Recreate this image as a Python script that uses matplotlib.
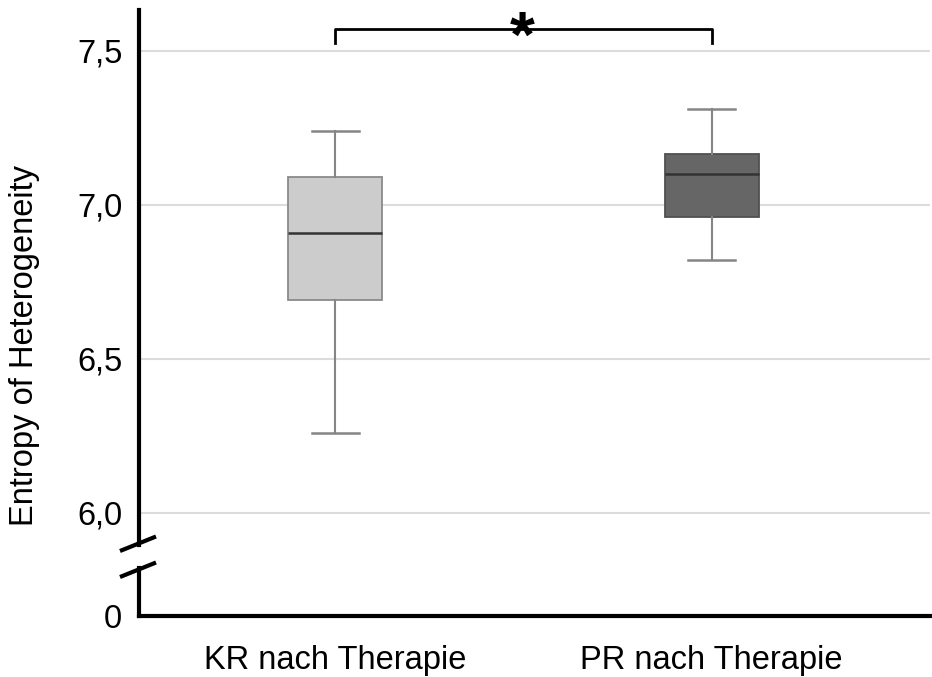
import matplotlib
matplotlib.use("Agg")
import matplotlib.pyplot as plt
from matplotlib.lines import Line2D

# values
groups = ["KR nach Therapie", "PR nach Therapie"]
whisker_low = [6.26, 6.82]
q1 = [6.69, 6.96]
median = [6.91, 7.10]
q3 = [7.09, 7.165]
whisker_high = [7.24, 7.31]
box_colors = ["#cccccc", "#666666"]
box_edges = ["#8a8a8a", "#505050"]
y_ticks = [6.0, 6.5, 7.0, 7.5]
y_tick_labels = ["6,0", "6,5", "7,0", "7,5"]
signif_label = "*"

plt.rcParams['font.family'] = ['Liberation Sans', 'DejaVu Sans']
FS = 23.5
W, H = 932, 677
fig = plt.figure(figsize=(W / 100, H / 100), dpi=100)


def px(l, t, r, b):
	return [l / W, 1 - b / H, (r - l) / W, (b - t) / H]


ax = fig.add_axes(px(139, 10, 930, 545))
ax_low = fig.add_axes(px(139, 568, 930, 616))

positions = [1, 2]
stats = []
for i in range(len(groups)):
	stats.append(dict(med=median[i], q1=q1[i], q3=q3[i],
		whislo=whisker_low[i], whishi=whisker_high[i], fliers=[]))

bp = ax.bxp(stats, positions=positions, widths=0.25, capwidths=0.125,
	patch_artist=True, showfliers=False,
	whiskerprops=dict(color="#858585", linewidth=1.5),
	capprops=dict(color="#858585", linewidth=1.8),
	medianprops=dict(color="#333333", linewidth=1.8))
for i, patch in enumerate(bp["boxes"]):
	patch.set_facecolor(box_colors[i])
	patch.set_edgecolor(box_edges[i])
	patch.set_linewidth(1.3)

x_lim = (0.478, 2.58)
ax.set_xlim(*x_lim)
ax.set_ylim(5.896, 7.633)
ax.set_xticks([])
ax.set_yticks(y_ticks)
ax.set_yticklabels(y_tick_labels)
ax.tick_params(axis="y", length=0, pad=12, labelsize=FS)
ax.set_axisbelow(True)
ax.yaxis.grid(True, color="#dcdcdc", linewidth=1.5)
for s in ["top", "right", "bottom"]:
	ax.spines[s].set_visible(False)
ax.spines["left"].set_linewidth(3)

# significance bracket
ax.plot([1, 1, 2, 2], [7.526, 7.571, 7.571, 7.526], color="black", linewidth=2, clip_on=False)
ax.text(1.497, 7.482, signif_label, ha="center", va="baseline", fontsize=46, fontweight="bold")

# lower part of broken axis
ax_low.set_xlim(*x_lim)
ax_low.set_ylim(0, 1)
ax_low.set_yticks([0])
ax_low.set_yticklabels(["0"])
ax_low.set_xticks(positions)
ax_low.set_xticklabels(groups)
ax_low.tick_params(axis="both", length=0, labelsize=FS)
ax_low.tick_params(axis="y", pad=12)
ax_low.tick_params(axis="x", pad=21)
for s in ["top", "right"]:
	ax_low.spines[s].set_visible(False)
ax_low.spines["left"].set_linewidth(3)
ax_low.spines["bottom"].set_linewidth(3)
ax_low.spines["left"].set_capstyle("projecting")
ax_low.spines["bottom"].set_capstyle("projecting")
ax_low.patch.set_alpha(0)

# break marks
for y0 in [551, 577]:
	fig.add_artist(Line2D([120 / W, 156 / W], [1 - y0 / H, 1 - (y0 - 14.5) / H],
		color="black", linewidth=3, solid_capstyle="butt"))

fig.text(25 / W, 1 - 345 / H, "Entropy of Heterogeneity", rotation=90,
	ha="center", va="center", fontsize=FS)

plt.savefig("out.png", dpi=100)
